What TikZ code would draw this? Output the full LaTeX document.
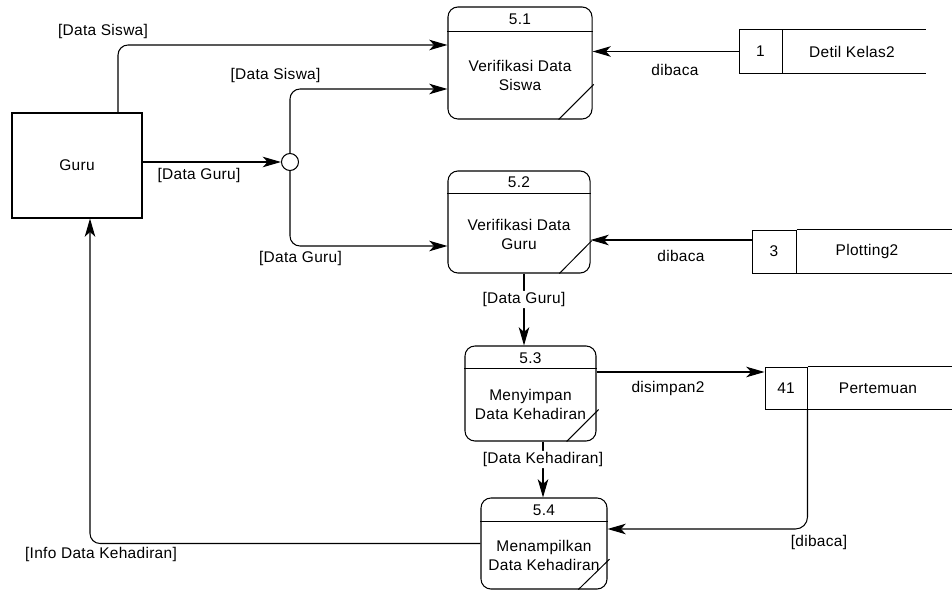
\documentclass[tikz,border=0pt]{standalone}
\usepackage{fontspec}
\setmainfont{Liberation Sans}[LetterSpace=2]
\usetikzlibrary{arrows.meta,calc}
\begin{document}
\begin{tikzpicture}[x=0.025cm,y=-0.025cm,
  every node/.style={font=\fontsize{11}{13.5}\selectfont},
  proc/.style={draw, rounded corners=0.25cm, line width=0.75pt, inner sep=0pt},
  ext/.style={draw, line width=0.75pt, inner sep=0pt},
  idcell/.style={draw, line width=0.7pt, inner sep=0pt},
  junction/.style={draw, circle, line width=0.75pt, minimum size=0.425cm, inner sep=0pt, fill=white},
  flow/.style={line width=0.75pt, -{Stealth[length=13pt,width=7.5pt,inset=3.5pt]}, rounded corners=0.25cm},
  rule/.style={line width=0.7pt},
  lbl/.style={inner sep=1pt},
  onlbl/.style={fill=white, inner sep=1pt}]
\useasboundingbox (0,0) rectangle (952,590);
\fill[white] (0,0) rectangle (952,590);

% external entity and junction
\node[ext, minimum width=3.25cm, minimum height=2.625cm] (guru) at (77,165.5) {Guru};
\node[junction] (jn) at (290,162) {};

% processes
\node[proc, minimum width=3.6cm, minimum height=2.8cm] (p51) at (520,63) {};
\node[proc, minimum width=3.55cm, minimum height=2.55cm] (p52) at (519,222) {};
\node[proc, minimum width=3.275cm, minimum height=2.375cm] (p53) at (530.5,393.5) {};
\node[proc, minimum width=3.15cm, minimum height=2.275cm] (p54) at (544,543.5) {};

\draw[rule] ([yshift=-0.625cm]p51.north west) -- ([yshift=-0.625cm]p51.north east);
\draw[rule] ([yshift=-0.575cm]p52.north west) -- ([yshift=-0.575cm]p52.north east);
\draw[rule] ([yshift=-0.575cm]p53.north west) -- ([yshift=-0.575cm]p53.north east);
\draw[rule] ([yshift=-0.6cm]p54.north west) -- ([yshift=-0.6cm]p54.north east);

\draw[rule] ([xshift=-0.85cm]p51.south east) -- ([xshift=0.03cm,yshift=0.88cm]p51.south east);
\draw[rule] ([xshift=-0.78cm]p52.south east) -- ([xshift=0.03cm,yshift=0.82cm]p52.south east);
\draw[rule] ([xshift=-0.75cm]p53.south east) -- ([xshift=0.05cm,yshift=0.8cm]p53.south east);
\draw[rule] ([xshift=-0.73cm]p54.south east) -- ([xshift=0.05cm,yshift=0.76cm]p54.south east);

\node[lbl] (n51) at (520,19) {5.1};
\node[lbl] (n52) at (519,182) {5.2};
\node[lbl] (n53) at (530.5,358) {5.3};
\node[lbl] (n54) at (544,510) {5.4};

\node[lbl, align=center] (t51) at (520,75.5) {Verifikasi Data\\Siswa};
\node[lbl, align=center] (t52) at (519,234) {Verifikasi Data\\Guru};
\node[lbl, align=center] (t53) at (530.5,404) {Menyimpan\\Data Kehadiran};
\node[lbl, align=center] (t54) at (544,555) {Menampilkan\\Data Kehadiran};

% data stores
\node[idcell, minimum width=1.075cm, minimum height=1.075cm] (s1id) at (760.5,51.5) {1};
\draw[rule] (s1id.north east) -- ++(143,0);
\draw[rule] (s1id.south east) -- ++(143,0);
\node[lbl] (s1) at (852,52) {Detil Kelas2};

\node[idcell, minimum width=1.1cm, minimum height=1.075cm] (s3id) at (774,251.5) {3};
\draw[rule] (s3id.north east) -- ++(160,0);
\draw[rule] (s3id.south east) -- ++(160,0);
\node[lbl] (s3) at (867,252) {Plotting2};

\node[idcell, minimum width=1.05cm, minimum height=1.05cm] (s41id) at (786,388) {41};
\draw[rule] (s41id.north east) -- ++(147,0);
\draw[rule] (s41id.south east) -- ++(147,0);
\node[lbl] (s41) at (878,388) {Pertemuan};

% flows
\draw[flow] ([xshift=1.025cm]guru.north) |- ([yshift=0.45cm]p51.west);
\draw[flow] (guru.east |- jn) -- (jn.west);
\draw[flow] (jn.north) |- ([yshift=-0.65cm]p51.west);
\draw[flow] (jn.south) |- ([yshift=-0.6cm]p52.west);

\draw[flow] (s1id.west) -- (p51.east |- s1id.west);
\coordinate (c32) at ([yshift=-0.45cm]p52.east);
\draw[flow] (s3id.west |- c32) -- (c32);

\coordinate (c23) at ([xshift=0.125cm]p52.south);
\draw[flow] (c23) -- (c23 |- p53.north) node[onlbl, pos=0.36] (l23) {[Data Guru]};

\coordinate (c34) at ([yshift=0.5375cm]p53.east);
\draw[flow] (c34) -- (c34 -| s41id.west);

\coordinate (c35) at ([xshift=0.3125cm]p53.south);
\draw[flow] (c35) -- (c35 |- p54.north) node[onlbl, pos=0.32] (l35) {[Data Kehadiran]};

\coordinate (c45) at ([yshift=0.3625cm]p54.east);
\draw[flow, rounded corners=0.3cm] (s41id.south east) |- (c45);

\draw[flow] (p54.west) -| ([xshift=0.325cm]guru.south);

% flow labels
\node[lbl] (la) at (103,32) {[Data Siswa]};
\node[lbl] (lb) at (275.5,76) {[Data Siswa]};
\node[lbl] (lc) at (199,176) {[Data Guru]};
\node[lbl] (ld) at (300.5,259) {[Data Guru]};
\node[lbl] (le) at (675,70) {dibaca};
\node[lbl] (lf) at (681,256) {dibaca};
\node[lbl] (lg) at (668,388) {disimpan2};
\node[lbl] (lh) at (819,542) {[dibaca]};
\node[lbl] (li) at (101,554) {[Info Data Kehadiran]};
\end{tikzpicture}
\end{document}
